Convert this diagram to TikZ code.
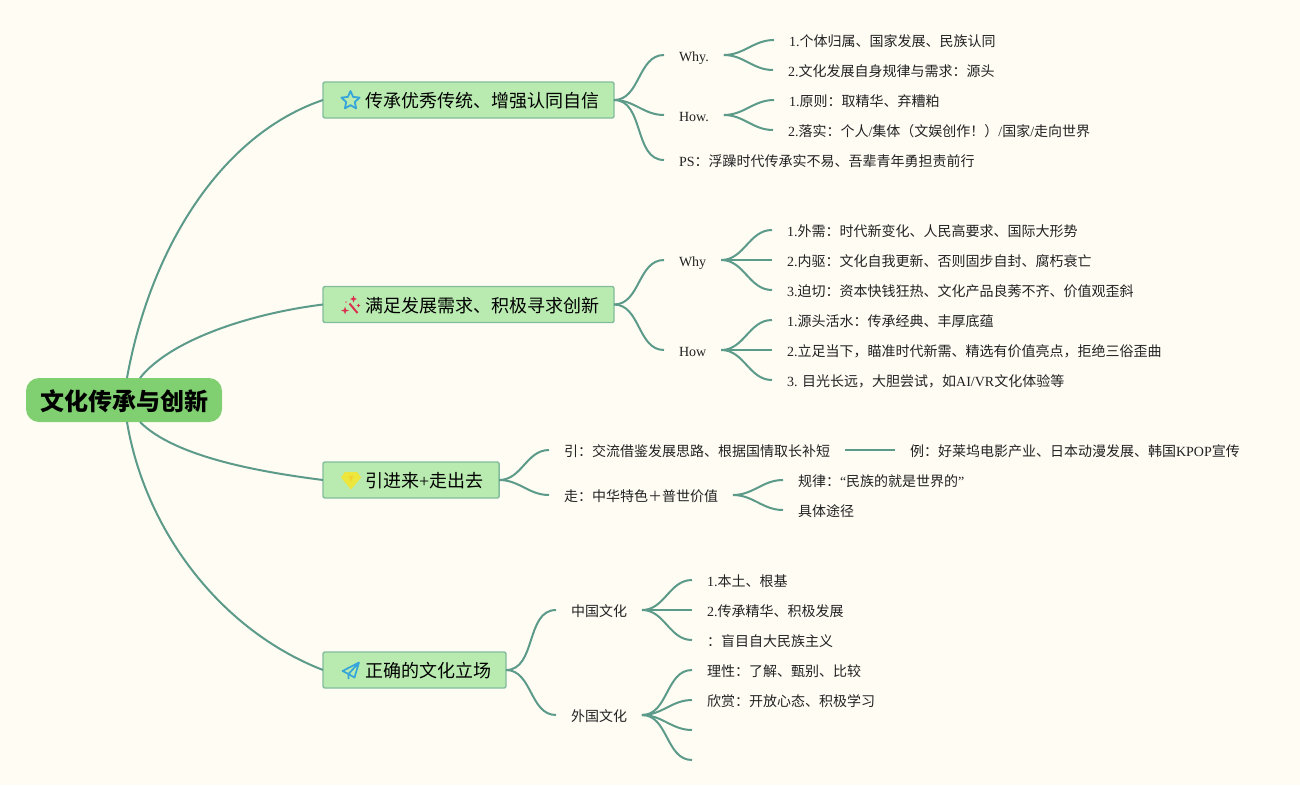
\documentclass[tikz,border=0pt]{standalone}
\usepackage{fontspec}
\setmainfont{Noto Sans CJK SC}
\newfontfamily\latnf{Liberation Serif}
\newcommand\latn[1]{{\latnf #1}}
\definecolor{bgc}{HTML}{FFFCF4}
\definecolor{linkc}{HTML}{5C9A8A}
\definecolor{mainf}{HTML}{B9EBB0}
\definecolor{maind}{HTML}{82BC9C}
\definecolor{rootf}{HTML}{80CF70}
\definecolor{inkc}{HTML}{222222}
\definecolor{bluei}{HTML}{36A6DA}
\definecolor{redi}{HTML}{DA3352}
\definecolor{yeli}{HTML}{EDE63C}
\tikzset{
  lk/.style={draw=linkc,line width=2pt},
  rootnode/.style={fill=rootf,rounded corners=13pt,minimum width=196pt,minimum height=44pt,inner sep=0pt,outer sep=0pt,
    text height=20pt,text depth=0pt,text=black,font=\fontsize{24}{24}\selectfont\bfseries},
  mainnode/.style={anchor=west,fill=mainf,draw=maind,line width=1.4pt,rounded corners=2pt,minimum height=36pt,inner xsep=16pt,inner ysep=0pt,outer sep=0pt,
    text height=15pt,text depth=0pt,text=black,font=\fontsize{18}{18}\selectfont},
  leaf/.style={anchor=west,inner xsep=15pt,inner ysep=0pt,outer sep=0pt,text height=12pt,text depth=0pt,text=inkc,font=\fontsize{14}{14}\selectfont},
}
\newcommand\kid[2]{\draw[lk] (#1.east) to[out=0,in=180] (#2.west);}
\newcommand\kidc[2]{\draw[lk] (#1.east) to[out=0,in=180] (#2);}
\newcommand\ic{\hspace*{26pt}}
\begin{document}
\begin{tikzpicture}[x=1pt,y=-1pt]
\path[fill=bgc,use as bounding box] (0,0) rectangle (1300,785);
% root and main topics
\node[rootnode] (root) at (124,400) {文化传承与创新};
\node[mainnode] (m1) at (323,100) {\ic 传承优秀传统、增强认同自信\hspace*{-1pt}};
\node[mainnode] (m2) at (323,304.5) {\ic 满足发展需求、积极寻求创新\hspace*{-1pt}};
\node[mainnode] (m3) at (323,480) {\ic 引进来\latn{+}走出去};
\node[mainnode] (m4) at (323,670) {\ic 正确的文化立场\hspace*{-1pt}};
% branch 1
\node[leaf] (why1) at (664,55) {\latn{Why.}};
\node[leaf] (how1) at (664,115) {\latn{How.}};
\node[leaf] (ps1) at (664,160) {\latn{PS}：浮躁时代传承实不易、吾辈青年勇担责前行};
\node[leaf] (a1) at (774,40) {\latn{1.}个体归属、国家发展、民族认同};
\node[leaf] (a2) at (773,70) {\latn{2.}文化发展自身规律与需求：源头};
\node[leaf] (a3) at (774,100) {\latn{1.}原则：取精华、弃糟粕};
\node[leaf] (a4) at (773,130) {\latn{2.}落实：个人\latn{/}集体（文娱创作！）\latn{/}国家\latn{/}走向世界};
% branch 2
\node[leaf] (why2) at (664,260) {\latn{Why}};
\node[leaf] (how2) at (664,350) {\latn{How}};
\node[leaf] (b1) at (772,230) {\latn{1.}外需：时代新变化、人民高要求、国际大形势};
\node[leaf] (b2) at (772,260) {\latn{2.}内驱：文化自我更新、否则固步自封、腐朽衰亡};
\node[leaf] (b3) at (772,290) {\latn{3.}迫切：资本快钱狂热、文化产品良莠不齐、价值观歪斜};
\node[leaf] (b4) at (772,320) {\latn{1.}源头活水：传承经典、丰厚底蕴};
\node[leaf] (b5) at (772,350) {\latn{2.}立足当下，瞄准时代新需、精选有价值亮点，拒绝三俗歪曲};
\node[leaf] (b6) at (772,380) {\latn{3. }目光长远，大胆尝试，如\latn{AI/VR}文化体验等};
% branch 3
\node[leaf] (yin) at (549,450) {引：交流借鉴发展思路、根据国情取长补短};
\node[leaf] (li) at (895,450) {例：好莱坞电影产业、日本动漫发展、韩国\latn{KPOP}宣传};
\node[leaf] (zou) at (549,495) {走：中华特色＋普世价值};
\node[leaf] (c1) at (783,480) {规律：\latn{“}民族的就是世界的\latn{”}};
\node[leaf] (c2) at (783,510) {具体途径};
% branch 4
\node[leaf] (cn) at (556,610) {中国文化};
\node[leaf] (fo) at (556,715) {外国文化};
\node[leaf] (d1) at (692,580) {\latn{1.}本土、根基};
\node[leaf] (d2) at (692,610) {\latn{2.}传承精华、积极发展};
\node[leaf] (d3) at (692,640) {：盲目自大民族主义};
\node[leaf] (d4) at (692,670) {理性：了解、甄别、比较};
\node[leaf] (d5) at (692,700) {欣赏：开放心态、积极学习};
\coordinate (d6) at (692,730);
\coordinate (d7) at (692,760);
% root connectors
\draw[lk] ([xshift=3pt]root.north) .. controls +(23,-128) and +(-103,35) .. (m1.west);
\draw[lk] ([xshift=16pt]root.north) .. controls +(30,-38) and +(-73,9) .. (m2.west);
\draw[lk] ([xshift=16pt]root.south) .. controls +(35,35) and +(-63,-8) .. (m3.west);
\draw[lk] ([xshift=3pt]root.south) .. controls +(18,108) and +(-103,-40) .. (m4.west);
% child connectors
\kid{m1}{why1}\kid{m1}{how1}\kid{m1}{ps1}
\kid{why1}{a1}\kid{why1}{a2}\kid{how1}{a3}\kid{how1}{a4}
\kid{m2}{why2}\kid{m2}{how2}
\kid{why2}{b1}\kid{why2}{b2}\kid{why2}{b3}\kid{how2}{b4}\kid{how2}{b5}\kid{how2}{b6}
\kid{m3}{yin}\kid{m3}{zou}\kid{yin}{li}\kid{zou}{c1}\kid{zou}{c2}
\kid{m4}{cn}\kid{m4}{fo}
\kid{cn}{d1}\kid{cn}{d2}\kid{cn}{d3}\kid{fo}{d4}\kid{fo}{d5}\kidc{fo}{d6}\kidc{fo}{d7}
% icons
\draw[bluei,line width=1.8pt,line join=round] (350.5,91)--(353.1,96.9)--(359.6,97.6)--(354.8,102)--(356.1,108.4)--(350.5,105.2)--(344.9,108.4)--(346.2,102)--(341.4,97.6)--(347.9,96.9)--cycle;
\draw[redi,line width=2pt] (349.5,303.5)--(357.5,313);
\fill[redi] (353.5,295.5)--(354.5,298)--(357,299)--(354.5,300)--(353.5,302.5)--(352.5,300)--(350,299)--(352.5,298)--cycle;
\fill[redi] (345,306.5)--(346,309.5)--(349,310.5)--(346,311.5)--(345,314.5)--(344,311.5)--(341,310.5)--(344,309.5)--cycle;
\fill[redi] (358.5,303.5)--(359.2,305)--(360.5,305.5)--(359.2,306)--(358.5,307.5)--(357.8,306)--(356.5,305.5)--(357.8,305)--cycle;
\fill[redi!70] (346,302) circle (1pt);
\fill[yeli] (345,472)--(357,472)--(361,477.5)--(351,489.5)--(341,477.5)--cycle;
\fill[yeli!80!orange] (349,476)--(353,476)--(351,482)--cycle;
\draw[bluei,line width=1.7pt,line join=round] (359,662.5)--(342.5,671)--(348.5,674)--(354.5,677.5)--cycle (359,662.5)--(348.5,674)--(348.5,679);
\end{tikzpicture}
\end{document}
